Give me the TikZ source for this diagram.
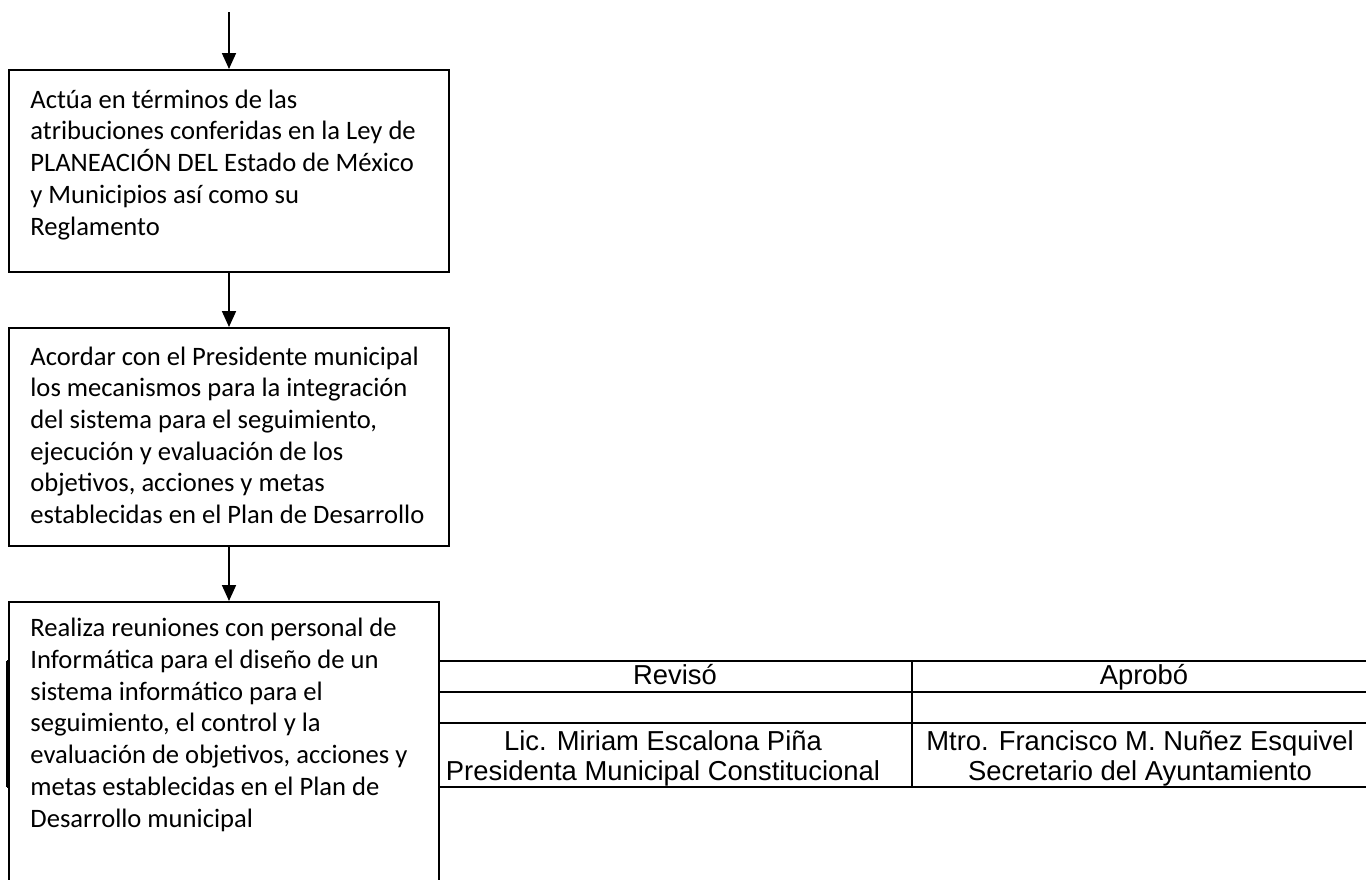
\documentclass[tikz,border=0pt]{standalone}
\usepackage{fontspec}
\setmainfont{Carlito}
\newfontfamily\tablafont{Liberation Sans}
\usetikzlibrary{arrows.meta, calc, positioning}

\tikzset{
  caja/.style={draw, line width=1pt, fill=white, inner sep=0pt},
  textocaja/.style={inner sep=0pt, align=left, anchor=base west,
    font=\fontsize{13.3}{15.85}\selectfont},
  lineatabla/.style={line width=1.2pt},
  textotabla/.style={inner sep=0pt, align=center, anchor=base,
    font=\tablafont\fontsize{13.7}{15}\selectfont},
  flecha/.style={line width=0.9pt, -{Triangle[length=8pt,width=7pt]}}
}

\begin{document}
\begin{tikzpicture}[x=0.5pt, y=-0.5pt]
	\clip (0,0) rectangle (1366,879);
	
	% tabla de firmas
	\foreach \y in {661,692,723,787}
		\draw[lineatabla] (7,\y) -- (1368,\y);
	\foreach \x in {7,439,912,1368}
		\draw[lineatabla] (\x,661) -- (\x,787);
	
	% (base = ultima linea del texto)
	\node[textotabla] (reviso) at (675,684) {Revisó};
	\node[textotabla] (aprobo) at (1144,684) {Aprobó};
	\node[textotabla] (presidenta) at (663,780) {Lic. Miriam Escalona Piña\\Presidenta Municipal Constitucional};
	\node[textotabla] (secretario) at (1140,780) {Mtro. Francisco M. Nuñez Esquivel\\Secretario del Ayuntamiento};
	
	% cajas del diagrama
	\coordinate (inicio) at (229,12);
	\node[caja, minimum width=220pt, minimum height=101pt] (actua) at (229,171) {};
	\node[textocaja] (actua-txt) at (30,235) {Actúa en términos de las\\atribuciones conferidas en la Ley de\\PLANEACIÓN DEL Estado de México\\y Municipios así como su\\Reglamento};
	
	\node[caja, minimum width=220pt, minimum height=109pt] (acordar) at (229,437) {};
	\node[textocaja] (acordar-txt) at (30,523.5) {Acordar con el Presidente municipal\\los mecanismos para la integración\\del sistema para el seguimiento,\\ejecución y evaluación de los\\objetivos, acciones y metas\\establecidas en el Plan de Desarrollo};
	
	\node[caja, minimum width=215pt, minimum height=149pt] (realiza) at (224,751) {};
	\node[textocaja] (realiza-txt) at (30,827) {Realiza reuniones con personal de\\Informática para el diseño de un\\sistema informático para el\\seguimiento, el control y la\\evaluación de objetivos, acciones y\\metas establecidas en el Plan de\\Desarrollo municipal};
	
	% flechas
	\draw[flecha] (inicio) -- (actua.north);
	\draw[flecha] (actua.south) -- (acordar.north);
	\draw[flecha] (acordar.south) -- (acordar.south |- realiza.north);
	
\end{tikzpicture}
\end{document}
